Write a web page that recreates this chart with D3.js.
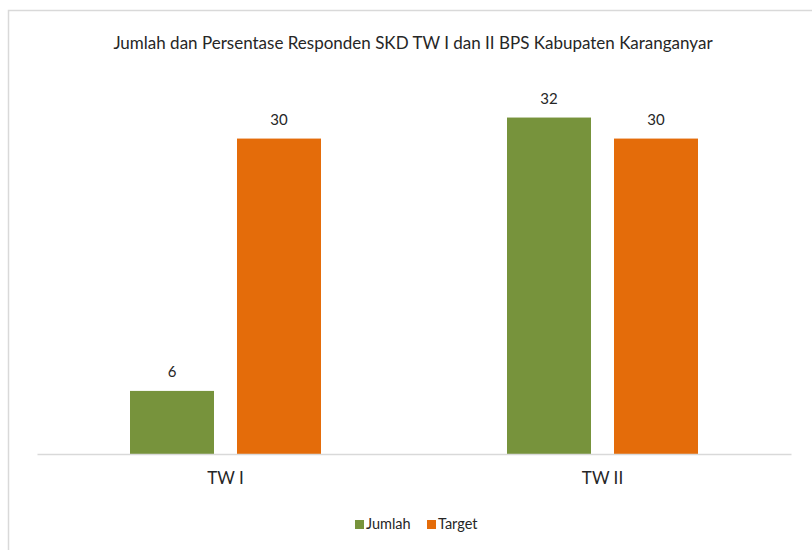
<!DOCTYPE html>
<html>
<head>
<meta charset="utf-8">
<script src="https://cdnjs.cloudflare.com/ajax/libs/d3/7.8.5/d3.min.js"></script>
<style>
  body { margin: 0; background: #fff; }
  text { font-family: Lato, "Open Sans", sans-serif; fill: #262626; }
</style>
</head>
<body>
<div id="chart"></div>
<script>
(function() {

  var title = "Jumlah dan Persentase Responden SKD TW I dan II BPS Kabupaten Karanganyar";
  var categories = ["TW I", "TW II"];
  var seriesNames = ["Jumlah", "Target"];
  var jumlah = [6, 32];
  var target = [30, 30];
  var colors = ["#77933c", "#e46c0a"];

  var width = 812, height = 550;
  var margin = { top: 86, left: 37, right: 21, bottom: 96 };

  var svg = d3.select("#chart")
        .append("svg")
        .attr("width", width)
        .attr("height", height);

  // chart area border
  svg.append("rect")
    .attr("x", 8.5).attr("y", 10.5)
    .attr("width", width + 20).attr("height", height + 20)
    .attr("fill", "none")
    .attr("stroke", "#d9d9d9")
    .attr("stroke-width", 1.5);

  svg.append("text")
    .attr("x", 413)
    .attr("y", 49)
    .attr("text-anchor", "middle")
    .attr("font-size", "17px")
    .text(title);

  var x0 = d3.scaleBand()
    .domain(categories)
    .range([margin.left, width - margin.right])
    .paddingInner(0)
    .paddingOuter(0);

  var inner = 191 / 377;
  var x1 = d3.scaleBand()
    .domain(seriesNames)
    .range([0, x0.bandwidth() * inner])
    .paddingInner(23 / 107);

  var y = d3.scaleLinear()
    .domain([0, 35])
    .range([height - margin.bottom, margin.top]);

  var rows = categories.map(function(c, i) {
    return { cat: c, values: [jumlah[i], target[i]] };
  });

  var groups = svg.selectAll("g.grp")
    .data(rows)
    .enter().append("g")
    .attr("class", "grp")
    .attr("transform", function(d) {
      return "translate(" + (x0(d.cat) + x0.bandwidth() * (1 - inner) / 2) + ",0)";
    });

  groups.selectAll("rect")
    .data(function(d) { return d.values.map(function(v, i) { return { s: seriesNames[i], v: v, i: i }; }); })
    .enter().append("rect")
    .attr("x", function(d) { return x1(d.s); })
    .attr("y", function(d) { return y(d.v); })
    .attr("width", x1.bandwidth())
    .attr("height", function(d) { return y(0) - y(d.v); })
    .attr("fill", function(d) { return colors[d.i]; });

  groups.selectAll("text.val")
    .data(function(d) { return d.values.map(function(v, i) { return { s: seriesNames[i], v: v }; }); })
    .enter().append("text")
    .attr("class", "val")
    .attr("x", function(d) { return x1(d.s) + x1.bandwidth() / 2; })
    .attr("y", function(d) { return y(d.v) - 14; })
    .attr("text-anchor", "middle")
    .attr("font-size", "15px")
    .text(function(d) { return d.v; });

  // category axis
  var xAxis = svg.append("g")
    .attr("transform", "translate(0," + y(0) + ")")
    .call(d3.axisBottom(x0).tickSize(0).tickPadding(18));
  xAxis.select(".domain").attr("stroke", "#d9d9d9").attr("stroke-width", 1.5);
  xAxis.selectAll("text")
    .attr("font-size", "17px")
    .attr("font-family", "Lato, 'Open Sans', sans-serif")
    .attr("fill", "#262626");

  // legend
  var legendX = [355, 427];
  var legend = svg.selectAll("g.leg")
    .data(seriesNames)
    .enter().append("g")
    .attr("class", "leg")
    .attr("transform", function(d, i) { return "translate(" + legendX[i] + ",520)"; });

  legend.append("rect")
    .attr("width", 9).attr("height", 9)
    .attr("fill", function(d, i) { return colors[i]; });

  legend.append("text")
    .attr("x", 11)
    .attr("y", 9)
    .attr("font-size", "14.5px")
    .text(function(d) { return d; });

})();
</script>
</body>
</html>
